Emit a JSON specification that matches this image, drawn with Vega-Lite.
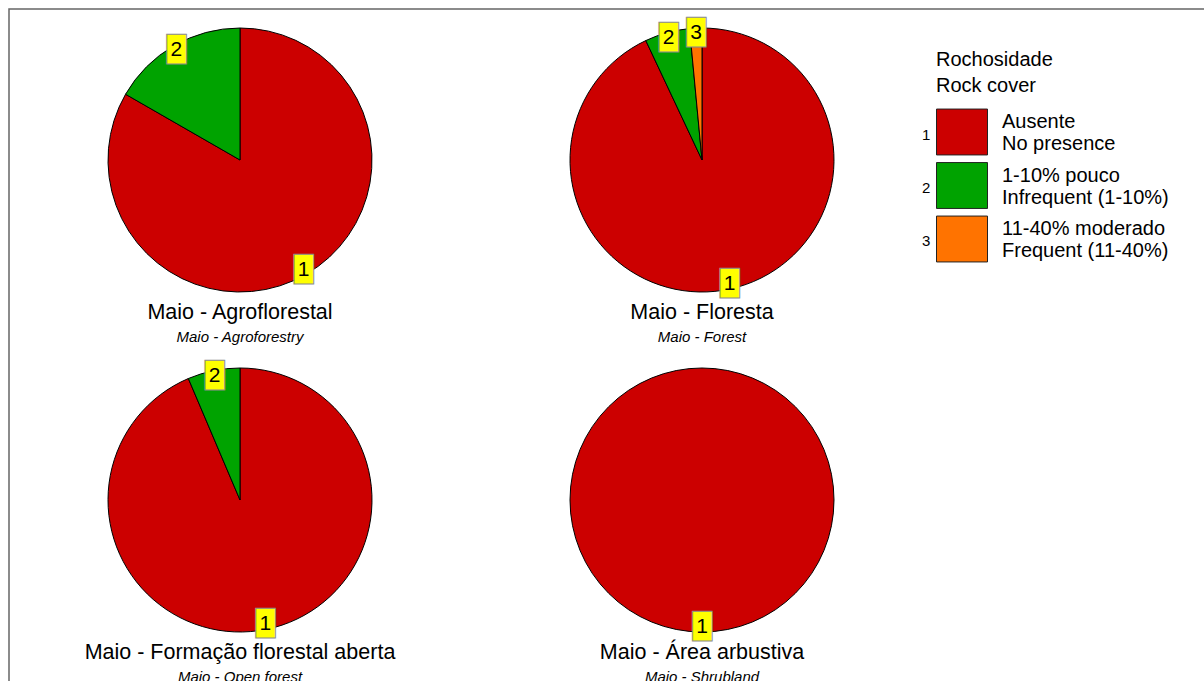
{
  "$schema": "https://vega.github.io/schema/vega-lite/v6.json",
  "autosize": {"type": "none"},
  "width": 1207,
  "height": 684,
  "padding": {"left": 9, "top": 9, "right": -12, "bottom": -12},
  "background": "white",
  "config": {
    "view": {"stroke": "#666666", "strokeWidth": 1.5},
    "font": "Liberation Sans"
  },
  "datasets": {
    "fatias": [
      {"panel": 1, "col": "E", "row": "A", "code": 1, "classe": "Ausente", "value": 83.3},
      {"panel": 1, "col": "E", "row": "A", "code": 2, "classe": "1-10% pouco", "value": 16.7},
      {"panel": 2, "col": "D", "row": "A", "code": 1, "classe": "Ausente", "value": 93.0},
      {"panel": 2, "col": "D", "row": "A", "code": 2, "classe": "1-10% pouco", "value": 5.5},
      {"panel": 2, "col": "D", "row": "A", "code": 3, "classe": "11-40% moderado", "value": 1.5},
      {"panel": 3, "col": "E", "row": "B", "code": 1, "classe": "Ausente", "value": 93.6},
      {"panel": 3, "col": "E", "row": "B", "code": 2, "classe": "1-10% pouco", "value": 6.4},
      {"panel": 4, "col": "D", "row": "B", "code": 1, "classe": "Ausente", "value": 100}
    ],
    "paineis": [
      {"panel": 1, "col": "E", "row": "A", "titulo": "Maio - Agroflorestal", "subtitulo": "Maio - Agroforestry"},
      {"panel": 2, "col": "D", "row": "A", "titulo": "Maio - Floresta", "subtitulo": "Maio - Forest"},
      {"panel": 3, "col": "E", "row": "B", "titulo": "Maio - Formação florestal aberta", "subtitulo": "Maio - Open forest"},
      {"panel": 4, "col": "D", "row": "B", "titulo": "Maio - Área arbustiva", "subtitulo": "Maio - Shrubland"}
    ]
  },
  "encoding": {
    "x": {"field": "col", "type": "nominal", "axis": null, "scale": {"type": "point", "domain": ["E", "D"], "range": [231, 693], "padding": 0}},
    "y": {"field": "row", "type": "nominal", "axis": null, "scale": {"type": "point", "domain": ["A", "B"], "range": [151, 491], "padding": 0}}
  },
  "layer": [
    {
      "data": {"name": "fatias"},
      "mark": {"type": "arc", "stroke": "#000000", "strokeWidth": 1, "radius2": 0},
      "encoding": {
        "theta": {"field": "value", "type": "quantitative", "stack": "normalize", "scale": {"domain": [0, 1]}},
        "radius": {"field": "panel", "type": "quantitative", "scale": {"type": "linear", "domain": [1, 4], "range": [132, 132]}},
        "order": {"field": "code", "type": "quantitative"},
        "color": {
          "field": "classe", "type": "nominal",
          "scale": {"domain": ["Ausente", "1-10% pouco", "11-40% moderado"], "range": ["#CC0000", "#00A300", "#FF7300"]},
          "legend": {
            "orient": "none", "legendX": 927, "legendY": 41,
            "title": ["Rochosidade", "Rock cover"],
            "titleFont": "Liberation Sans", "titleFontSize": 20, "titleFontWeight": "normal", "titleColor": "#000000", "titleLineHeight": 26, "titlePadding": 10,
            "symbolType": "M-1,-0.9H1V0.9H-1Z", "symbolSize": 2601, "symbolStrokeColor": "#222222", "symbolStrokeWidth": 1, "symbolOpacity": 1,
            "labelExpr": "datum.label == 'Ausente' ? ['Ausente', 'No presence'] : datum.label == '1-10% pouco' ? ['1-10% pouco', 'Infrequent (1-10%)'] : ['11-40% moderado', 'Frequent (11-40%)']",
            "labelFont": "Liberation Sans", "labelFontSize": 20, "labelLineHeight": 24, "labelOffset": 14, "labelColor": "#000000", "labelLimit": 300, "labelBaseline": "bottom",
            "rowPadding": 2.5, "padding": 0
          }
        },
        "opacity": {
          "field": "code", "type": "ordinal",
          "scale": {"domain": [1, 2, 3], "range": [1, 1, 1]},
          "legend": {
            "orient": "none", "legendX": 858, "legendY": 100,
            "title": null,
            "symbolType": "M-1,-0.9H1V0.9H-1Z", "symbolSize": 2601, "symbolOpacity": 0, "symbolFillColor": "transparent", "symbolStrokeColor": "transparent", "symbolStrokeWidth": 0,
            "labelFont": "Liberation Sans", "labelFontSize": 15, "labelOffset": 4, "labelColor": "#000000", "labelBaseline": "middle",
            "rowPadding": 4, "padding": 0
          }
        }
      }
    },
    {
      "data": {"name": "fatias"},
      "mark": {"type": "text", "font": "DejaVu Sans", "fontSize": 25, "fill": "#FFFF00", "stroke": "#8C8C8C", "strokeWidth": 1, "baseline": "middle", "align": "center"},
      "encoding": {
        "theta": {"field": "value", "type": "quantitative", "stack": "normalize", "scale": {"domain": [0, 1]}},
        "radius": {"field": "panel", "type": "quantitative", "scale": {"type": "linear", "domain": [1, 4], "range": [127, 127]}},
        "order": {"field": "code", "type": "quantitative"},
        "text": {"value": "█"}
      }
    },
    {
      "data": {"name": "fatias"},
      "mark": {"type": "text", "font": "Liberation Sans", "fontSize": 21, "fill": "#000000", "baseline": "middle", "align": "center"},
      "encoding": {
        "theta": {"field": "value", "type": "quantitative", "stack": "normalize", "scale": {"domain": [0, 1]}},
        "radius": {"field": "panel", "type": "quantitative", "scale": {"type": "linear", "domain": [1, 4], "range": [127, 127]}},
        "order": {"field": "code", "type": "quantitative"},
        "text": {"field": "code", "type": "nominal"}
      }
    },
    {
      "data": {"name": "paineis"},
      "mark": {"type": "text", "font": "Liberation Sans", "fontSize": 21.5, "fill": "#000000", "baseline": "middle", "align": "center", "dy": 153},
      "encoding": {"text": {"field": "titulo", "type": "nominal"}}
    },
    {
      "data": {"name": "paineis"},
      "mark": {"type": "text", "font": "Liberation Sans", "fontSize": 15, "fontStyle": "italic", "fill": "#000000", "baseline": "middle", "align": "center", "dy": 177},
      "encoding": {"text": {"field": "subtitulo", "type": "nominal"}}
    }
  ],
  "resolve": {"scale": {"radius": "independent"}}
}
